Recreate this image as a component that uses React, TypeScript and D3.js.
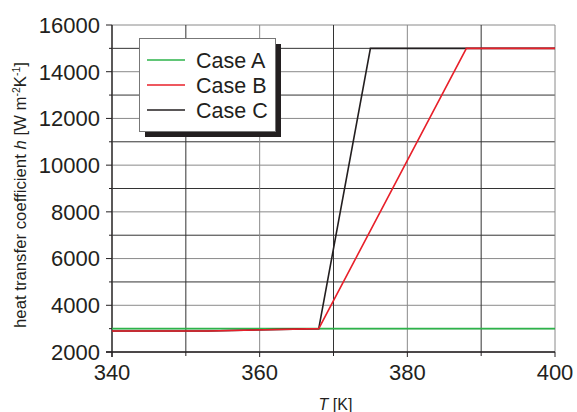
import React from "react";
import * as d3 from "d3";

const caseA_T = [340, 400];
const caseA_h = [3000, 3000];
const caseB_T = [340, 353, 368, 388, 400];
const caseB_h = [2900, 2900, 3000, 15000, 15000];
const caseC_T = [340, 353, 368, 375, 400];
const caseC_h = [2900, 2900, 3000, 15000, 15000];
const xTicks = [340, 360, 380, 400];
const xMinor = [350, 370, 390];
const yTicks = [2000, 4000, 6000, 8000, 10000, 12000, 14000, 16000];
const yMinor = [3000, 5000, 7000, 9000, 11000, 13000, 15000];
const seriesNames = ["Case A", "Case B", "Case C"];
const seriesColors = ["#2db34a", "#e8202a", "#231f20"];

export default function App() {
  const W = 577, H = 412;
  const left = 112, right = 555, top = 25, bottom = 352;
  const x = d3.scaleLinear().domain([340, 400]).range([left, right]);
  const y = d3.scaleLinear().domain([2000, 16000]).range([bottom, top]);
  const line = (ts: number[], hs: number[]) =>
    d3.line<number>().x((_, i) => x(ts[i])).y((_, i) => y(hs[i]))(ts) || "";
  const series = [
    [caseA_T, caseA_h],
    [caseC_T, caseC_h],
    [caseB_T, caseB_h],
  ];
  const colorsOrder = [seriesColors[0], seriesColors[2], seriesColors[1]];
  const font = "'Liberation Sans', Arial, sans-serif";
  const majorGrid = "#8a8a8a";
  const minorGrid = "#333";
  const ink = "#231f20";
  return (
    <svg width={W} height={H} style={{ position: "absolute", left: 0, top: 0, background: "#fff" }} fontFamily={font}>
      {/* gridlines */}
      {yTicks.map((v) => (
        <line key={"gy" + v} x1={left} x2={right} y1={y(v)} y2={y(v)} stroke={majorGrid} strokeWidth={1} />
      ))}
      {yMinor.map((v) => (
        <line key={"gym" + v} x1={left} x2={right} y1={y(v)} y2={y(v)} stroke={minorGrid} strokeWidth={1} />
      ))}
      {xTicks.map((v) => (
        <line key={"gx" + v} y1={top} y2={bottom} x1={x(v)} x2={x(v)} stroke={majorGrid} strokeWidth={1} />
      ))}
      {xMinor.map((v) => (
        <line key={"gxm" + v} y1={top} y2={bottom} x1={x(v)} x2={x(v)} stroke={minorGrid} strokeWidth={1} />
      ))}
      {/* axes */}
      <line x1={left} x2={left} y1={top} y2={bottom + 5} stroke={ink} strokeWidth={1.3} />
      <line x1={left - 6} x2={right} y1={bottom} y2={bottom} stroke={ink} strokeWidth={1.3} />
      {yTicks.map((v) => (
        <g key={"yt" + v}>
          <line x1={left - 6} x2={left} y1={y(v)} y2={y(v)} stroke={ink} />
          <text x={left - 12} y={y(v)} dy="0.36em" textAnchor="end" fontSize={22} fill={ink}>{v}</text>
        </g>
      ))}
      {yMinor.map((v) => (
        <line key={"ym" + v} x1={left - 3} x2={left} y1={y(v)} y2={y(v)} stroke={ink} />
      ))}
      {xTicks.map((v) => (
        <g key={"xt" + v}>
          <line x1={x(v)} x2={x(v)} y1={bottom} y2={bottom + 5} stroke={ink} />
          <text x={x(v)} y={bottom + 28} textAnchor="middle" fontSize={22} fill={ink}>{v}</text>
        </g>
      ))}
      {xMinor.map((v) => (
        <line key={"xm" + v} x1={x(v)} x2={x(v)} y1={bottom} y2={bottom + 4} stroke={ink} />
      ))}
      {/* series */}
      {series.map((s, i) => (
        <path key={"s" + i} d={line(s[0], s[1])} fill="none" stroke={colorsOrder[i]} strokeWidth={1.6} />
      ))}
      {/* legend */}
      <rect x={145} y={44} width={136} height={93} fill={ink} />
      <rect x={139.5} y={38.5} width={136} height={93} fill="#fff" stroke="#777" strokeWidth={1} />
      {seriesNames.map((n, i) => (
        <g key={"lg" + n}>
          <line x1={147} x2={185} y1={60 + i * 25} y2={60 + i * 25} stroke={seriesColors[i]} strokeWidth={1.6} />
          <text x={196} y={60 + i * 25} dy="0.36em" fontSize={21.5} fill={ink}>{n}</text>
        </g>
      ))}
      {/* axis titles */}
      <text transform={`translate(26,195) rotate(-90)`} textAnchor="middle" fontSize={16} fill={ink}
        textLength={266} lengthAdjust="spacingAndGlyphs">
        heat transfer coefficient <tspan fontStyle="italic">h</tspan> [W m<tspan dy="-6" fontSize={10}>-2</tspan><tspan dy="6">K</tspan><tspan dy="-6" fontSize={10}>-1</tspan><tspan dy="6">]</tspan>
      </text>
      <text x={335.5} y={410} textAnchor="middle" fontSize={16} fill={ink}>
        <tspan fontStyle="italic">T</tspan> [K]
      </text>
    </svg>
  );
}
